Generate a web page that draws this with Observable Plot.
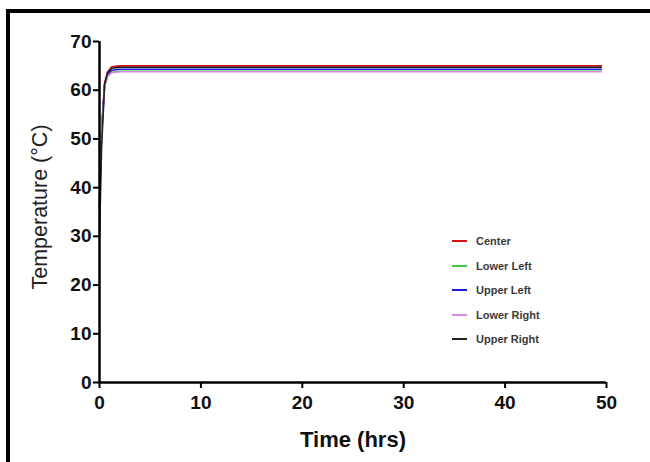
<!DOCTYPE html>
<html>
<head>
<meta charset="utf-8">
<script src="https://cdn.jsdelivr.net/npm/d3@7"></script>
<script src="https://cdn.jsdelivr.net/npm/@observablehq/plot@0.6"></script>
<style>
  html, body { margin: 0; padding: 0; background: #fff; overflow: hidden; width: 650px; height: 462px; }
  #wrap { position: relative; width: 650px; height: 462px; overflow: hidden; font-family: "Liberation Sans", Arial, sans-serif; }
  #chart svg { display: block; }
  #legend { position: absolute; left: 452px; top: 229px; font-size: 11px; color: #3a3a3a; font-weight: bold; }
  #legend div { height: 24.5px; display: flex; align-items: center; }
  #legend span.sw { display: inline-block; width: 15px; height: 2px; margin-right: 9px; }
</style>
</head>
<body>
<div id="wrap">
  <div id="chart"></div>
  <div id="legend"></div>
</div>
<script>
const seriesNames = ["Center", "Lower Left", "Upper Left", "Lower Right", "Upper Right"];
const seriesColors = ["#d41010", "#3ccc3c", "#1c1ce0", "#d58be0", "#222222"];
const time = [0, 0.2, 0.5, 0.8, 1.2, 2, 10, 20, 30, 40, 49.5];
const center     = [36, 52, 61.5, 63.8, 64.8, 65.0, 65.0, 65.0, 65.0, 65.0, 65.0];
const lowerLeft  = [36, 51, 60.6, 62.9, 63.7, 63.9, 63.9, 63.9, 63.9, 63.9, 63.9];
const upperLeft  = [36, 51, 61.0, 63.2, 64.1, 64.3, 64.3, 64.3, 64.3, 64.3, 64.3];
const lowerRight = [36, 51, 60.7, 62.9, 63.6, 63.8, 63.8, 63.8, 63.8, 63.8, 63.8];
const upperRight = [30, 48, 61.2, 63.6, 64.5, 64.7, 64.7, 64.7, 64.7, 64.7, 64.7];
const xTicks = [0, 10, 20, 30, 40, 50];
const yTicks = [0, 10, 20, 30, 40, 50, 60, 70];

const valuesBySeries = [center, lowerLeft, upperLeft, lowerRight, upperRight];
const rows = [];
seriesNames.forEach((name, i) => {
  time.forEach((t, j) => rows.push({series: name, time: t, temp: valuesBySeries[i][j]}));
});

const chart = Plot.plot({
  width: 650,
  height: 462,
  marginLeft: 99,
  marginRight: 44,
  marginTop: 41,
  marginBottom: 80,
  style: {fontFamily: "'Liberation Sans', Arial, sans-serif", background: "transparent"},
  x: {domain: [0, 50]},
  y: {domain: [0, 70]},
  color: {domain: seriesNames, range: seriesColors},
  marks: [
    Plot.line(rows, {x: "time", y: "temp", z: "series", stroke: "series", strokeWidth: 1.6}),
    Plot.ruleX([0], {stroke: "#000", strokeWidth: 2.5}),
    Plot.ruleY([0], {stroke: "#000", strokeWidth: 2.5}),
    Plot.axisX(xTicks, {tickSize: 6, tickPadding: 7, fontSize: 19, fontWeight: "bold", fill: "#111", stroke: "#000", strokeWidth: 2,
      label: "Time (hrs)", labelAnchor: "center", labelArrow: "none", labelOffset: 64}),
    Plot.axisY(yTicks, {tickSize: 6, tickPadding: 2, fontSize: 19, fontWeight: "bold", fill: "#111", stroke: "#000", strokeWidth: 2,
      label: null})
  ]
});
document.getElementById("chart").appendChild(chart);

const svg = d3.select(chart);
svg.selectAll("[aria-label='x-axis label'] text").attr("font-size", 22).attr("font-weight", "bold").attr("fill", "#111");

// decorative outer frame (top and left edges only, as in the reference)
svg.append("path")
  .attr("d", "M8,470 V11 H660")
  .attr("fill", "none")
  .attr("stroke", "#000")
  .attr("stroke-width", 4);

svg.append("text")
  .attr("transform", `translate(41, 207) rotate(-90)`)
  .attr("text-anchor", "middle")
  .attr("dominant-baseline", "middle")
  .attr("font-size", 21.5)
  .attr("fill", "#222")
  .text("Temperature (°C)");

const legend = d3.select("#legend");
seriesNames.forEach((n, i) => {
  const d = legend.append("div");
  d.append("span").attr("class", "sw").style("background", seriesColors[i]);
  d.append("span").text(n);
});
</script>
</body>
</html>
